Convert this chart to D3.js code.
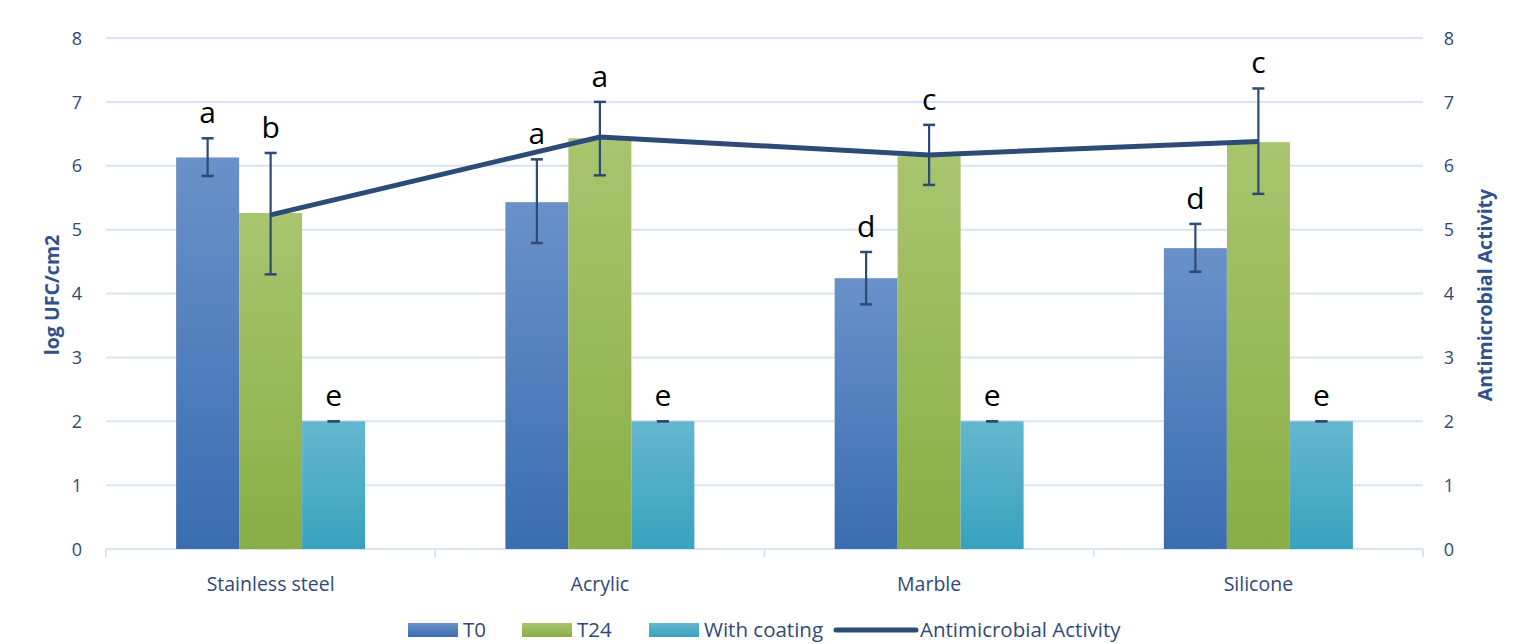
<!DOCTYPE html>
<html><head><meta charset="utf-8">
<script src="https://cdn.jsdelivr.net/npm/d3@7"></script>
<style>
html,body{margin:0;padding:0;background:#fff;}
svg{display:block;}
text{font-family:"Open Sans","Noto Sans",sans-serif;}
</style></head>
<body><svg id="c" width="1513" height="644"></svg>
<script>
const categories = ["Stainless steel","Acrylic","Marble","Silicone"];
const seriesNames = ["T0","T24","With coating"];
const t0 = [6.13, 5.43, 4.24, 4.71];
const t0Lo = [5.84, 4.79, 3.83, 4.34];
const t0Hi = [6.43, 6.10, 4.65, 5.09];
const t24 = [5.26, 6.43, 6.15, 6.37];
const t24Lo = [4.30, 5.85, 5.70, 5.56];
const t24Hi = [6.20, 7.00, 6.64, 7.21];
const coat = [2.0, 2.0, 2.0, 2.0];
const coatLo = [2.0, 2.0, 2.0, 2.0];
const coatHi = [2.0, 2.0, 2.0, 2.0];
const t0Letters = ["a","a","d","d"];
const t24Letters = ["b","a","c","c"];
const coatLetters = ["e","e","e","e"];
const activity = [5.23, 6.45, 6.17, 6.38];
const yTicks = [0,1,2,3,4,5,6,7,8];
const leftTitle = "log UFC/cm2";
const rightTitle = "Antimicrobial Activity";
const lineName = "Antimicrobial Activity";

const svg = d3.select("#c");
const L = 106, R = 1423, T = 38, B = 549;
const x = d3.scaleBand().domain(categories).range([L, R]).paddingInner(0).paddingOuter(0);
const x1 = d3.scaleBand().domain(seriesNames).range([0, 189]);
const groupOff = (x.bandwidth() - 189) / 2;
const y = d3.scaleLinear().domain([0, 8]).range([B, T]);
const y2 = d3.scaleLinear().domain([0, 8]).range([B, T]);

const tickColor = "#2F4A78";
const gridColor = "#D9E4F2";

// gradients
const defs = svg.append("defs");
const grads = [["g0","#6A91C9","#3A6DB0"],["g1","#A8C56F","#89AE44"],["g2","#65B7CF","#38A2BE"]];
grads.forEach(([id,a,b])=>{
  const g = defs.append("linearGradient").attr("id",id).attr("x1",0).attr("y1",0).attr("x2",0).attr("y2",1);
  g.append("stop").attr("offset","0%").attr("stop-color",a);
  g.append("stop").attr("offset","100%").attr("stop-color",b);
});

// gridlines
svg.append("g").selectAll("line").data(yTicks.filter(d=>d>0)).join("line")
  .attr("x1",L).attr("x2",R).attr("y1",d=>y(d)).attr("y2",d=>y(d))
  .attr("stroke",gridColor).attr("stroke-width",2);

// bottom axis line + category ticks
svg.append("line").attr("x1",L).attr("x2",R).attr("y1",B).attr("y2",B).attr("stroke",gridColor).attr("stroke-width",2);
const bounds = categories.map(c=>x(c)).concat([R]);
svg.append("g").selectAll("line").data(bounds).join("line")
  .attr("x1",d=>d).attr("x2",d=>d).attr("y1",B).attr("y2",B+8)
  .attr("stroke",gridColor).attr("stroke-width",2);

// left y axis
const yAxisL = d3.axisLeft(y).tickValues(yTicks).tickSize(0).tickPadding(0);
const gl = svg.append("g").attr("transform",`translate(84,0)`).call(yAxisL);
gl.select(".domain").remove();
gl.selectAll("text").attr("fill",tickColor).style("font-size","18px").attr("text-anchor","middle").attr("dx","-7").attr("dy","0.34em");

const yAxisR = d3.axisRight(y2).tickValues(yTicks).tickSize(0).tickPadding(0);
const gr = svg.append("g").attr("transform",`translate(1443,0)`).call(yAxisR);
gr.select(".domain").remove();
gr.selectAll("text").attr("fill",tickColor).style("font-size","18px").attr("text-anchor","middle").attr("dx","6").attr("dy","0.34em");

// category labels
svg.append("g").selectAll("text").data(categories).join("text")
  .attr("x",d=>x(d)+x.bandwidth()/2).attr("y",591)
  .attr("text-anchor","middle").attr("fill",tickColor).style("font-size","19.5px")
  .text(d=>d);

// axis titles
svg.append("text").attr("transform",`translate(59,295) rotate(-90)`)
  .attr("text-anchor","middle").attr("fill","#2F528F").style("font-size","19.5px").style("font-weight","bold").text(leftTitle);
svg.append("text").attr("transform",`translate(1492,295) rotate(-90)`)
  .attr("text-anchor","middle").attr("fill","#2F528F").style("font-size","19.5px").style("font-weight","bold").text(rightTitle);

// bars
const series = [
  {name:seriesNames[0], vals:t0, lo:t0Lo, hi:t0Hi, letters:t0Letters, grad:"g0"},
  {name:seriesNames[1], vals:t24, lo:t24Lo, hi:t24Hi, letters:t24Letters, grad:"g1"},
  {name:seriesNames[2], vals:coat, lo:coatLo, hi:coatHi, letters:coatLetters, grad:"g2"}
];
const bx = (c,s) => x(c) + groupOff + x1(s);
series.forEach(s=>{
  const g = svg.append("g");
  g.selectAll("rect").data(categories).join("rect")
    .attr("x",(c)=>bx(c,s.name)).attr("width",x1.bandwidth())
    .attr("y",(c,i)=>y(s.vals[i])).attr("height",(c,i)=>B-y(s.vals[i]))
    .attr("fill",`url(#${s.grad})`);
});

// activity line
const line = d3.line().x((d,i)=>bx(categories[i],seriesNames[1])+x1.bandwidth()/2).y(d=>y2(d));
svg.append("path").datum(activity).attr("d",line).attr("fill","none")
  .attr("stroke","#2D4B77").attr("stroke-width",5).attr("stroke-linejoin","miter");

// error bars + letters
const errColor = "#2D4B77";
series.forEach(s=>{
  const g = svg.append("g");
  categories.forEach((c,i)=>{
    const cx = bx(c,s.name)+x1.bandwidth()/2;
    const yl = y(s.lo[i]), yh = y(s.hi[i]);
    if (yl - yh > 1) {
      g.append("line").attr("x1",cx).attr("x2",cx).attr("y1",yl).attr("y2",yh).attr("stroke",errColor).attr("stroke-width",2.2);
    }
    [yl,yh].forEach(yy=>g.append("line").attr("x1",cx-6).attr("x2",cx+6).attr("y1",yy).attr("y2",yy).attr("stroke",errColor).attr("stroke-width",2.5));
    g.append("text").attr("x",cx).attr("y",yh-15).attr("text-anchor","middle")
      .attr("fill","#000").style("font-size","30px").text(s.letters[i]);
  });
});

// legend
const lg = svg.append("g");
const legItems = [
  {type:"rect",grad:"g0",label:seriesNames[0],x:408},
  {type:"rect",grad:"g1",label:seriesNames[1],x:522},
  {type:"rect",grad:"g2",label:seriesNames[2],x:649},
  {type:"line",label:lineName,x:836}
];
legItems.forEach(it=>{
  if(it.type==="rect"){
    lg.append("rect").attr("x",it.x).attr("y",623).attr("width",50).attr("height",14).attr("fill",`url(#${it.grad})`);
    lg.append("text").attr("x",it.x+55).attr("y",637).attr("fill",tickColor).style("font-size","20.5px").text(it.label);
  } else {
    lg.append("line").attr("x1",it.x).attr("x2",it.x+80).attr("y1",630).attr("y2",630).attr("stroke","#2D4B77").attr("stroke-width",5).attr("stroke-linecap","round");
    lg.append("text").attr("x",it.x+84).attr("y",637).attr("fill",tickColor).style("font-size","20.5px").text(it.label);
  }
});
</script></body></html>
